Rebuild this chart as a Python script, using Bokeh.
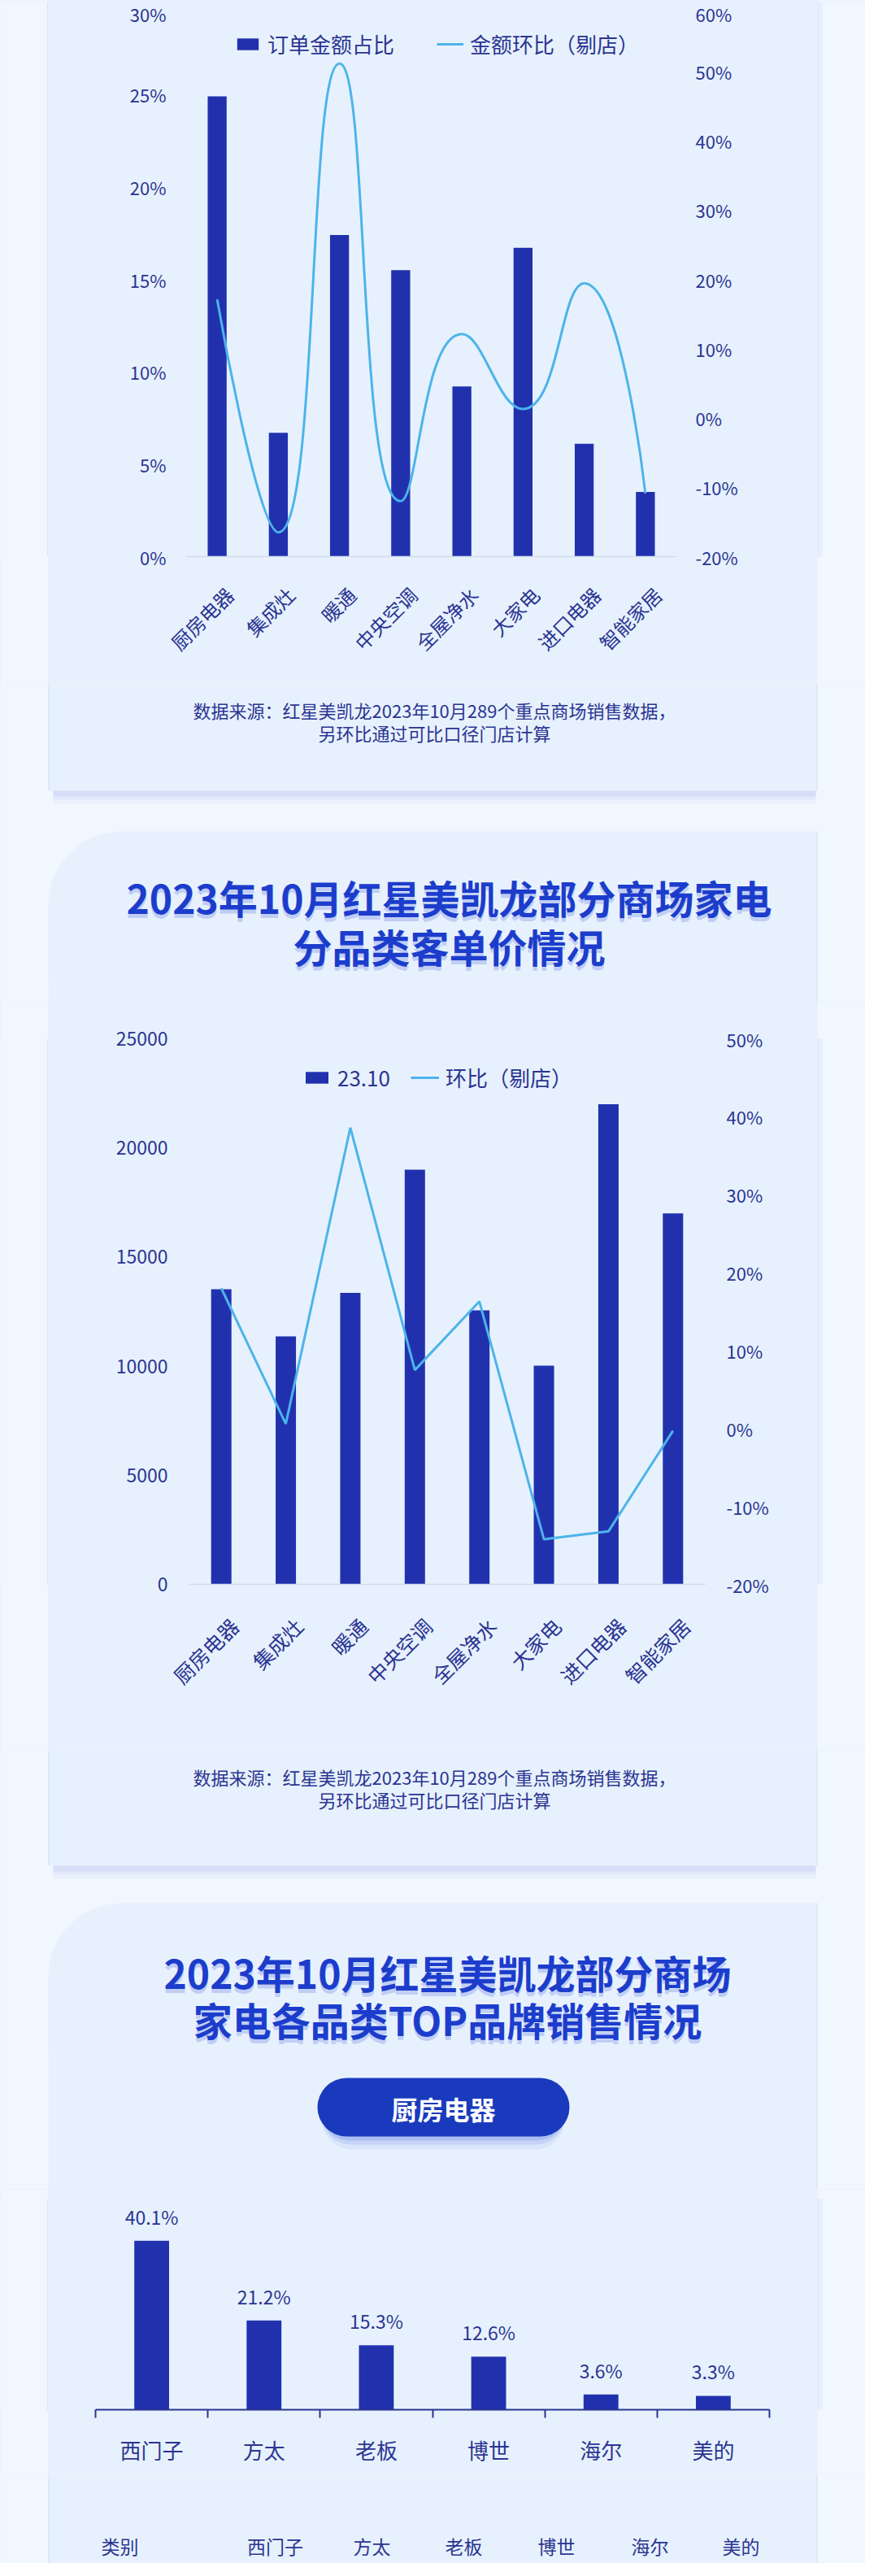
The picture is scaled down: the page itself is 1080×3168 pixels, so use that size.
import math
from bokeh.plotting import figure
from bokeh.models import (Range1d, LinearAxis, FixedTicker, PrintfTickFormatter, Legend,
                          LegendItem, LabelSet, BoxAnnotation, ColumnDataSource)
from bokeh.core.properties import value
from bokeh.layouts import column, row
from bokeh.embed import file_html
from bokeh.resources import INLINE

# ---------------- data ----------------
categories = ["厨房电器", "集成灶", "暖通", "中央空调", "全屋净水", "大家电", "进口电器", "智能家居"]
order_share = [24.9, 6.7, 17.4, 15.5, 9.2, 16.7, 6.1, 3.5]          # 订单金额占比 (%)
amount_mom = [17.1, -16.5, 51.1, -12.0, 12.1, 1.3, 19.4, -10.9]     # 金额环比（剔店）(%)
unit_price = [13520, 11360, 13360, 19000, 12560, 10020, 22000, 17000]  # 23.10 客单价
price_mom = [18.0, 0.6, 38.6, 7.5, 16.3, -14.2, -13.2, -0.3]        # 环比（剔店）(%)
brands = ["西门子", "方太", "老板", "博世", "海尔", "美的"]
brand_share = [40.1, 21.2, 15.3, 12.6, 3.6, 3.3]
share_ticks = [0, 5, 10, 15, 20, 25, 30]
mom_ticks1 = [-20, -10, 0, 10, 20, 30, 40, 50, 60]
price_ticks = [0, 5000, 10000, 15000, 20000, 25000]
mom_ticks2 = [-20, -10, 0, 10, 20, 30, 40, 50]
title2 = ["2023年10月红星美凯龙部分商场家电", "分品类客单价情况"]
title3 = ["2023年10月红星美凯龙部分商场", "家电各品类TOP品牌销售情况"]
source_lines = ["数据来源：红星美凯龙2023年10月289个重点商场销售数据，", "另环比通过可比口径门店计算"]
tab_label = "厨房电器"
table_head = ["类别"] + brands

# ---------------- style ----------------
FONT = "Noto Sans CJK SC"
INK = "#2b3592"
BAR = "#2131ae"
LINE = "#4cb4ea"
PAGE = "#f1f7fe"
CARD = "#e7f1fd"
EDGE = "#d9e5f8"
TITLE = "#1c3dcc"
W = 1064          # full page width used
SIDE = 59         # page strip left / right of the cards
CW = W - 2 * SIDE  # card width (946)


def strip_fig(w, h):
    p = figure(width=w, height=h, x_range=Range1d(0, w), y_range=Range1d(h, 0), title=None,
               output_backend="svg", toolbar_location=None,
               x_axis_location=None, y_axis_location=None,
               min_border_left=0, min_border_right=0, min_border_top=0, min_border_bottom=0)
    p.border_fill_color = PAGE
    p.background_fill_color = PAGE
    p.outline_line_color = None
    p.xgrid.grid_line_color = None
    p.ygrid.grid_line_color = None
    return p


def chart_fig(h, xr, yr, left, right, top, bottom):
    p = figure(width=CW, height=h, x_range=xr, y_range=yr, title=None, output_backend="svg",
               toolbar_location=None, x_axis_location=None, y_axis_location=None,
               min_border_left=left, min_border_right=right,
               min_border_top=top, min_border_bottom=bottom)
    p.border_fill_color = CARD
    p.background_fill_color = CARD
    p.outline_line_color = None
    p.xgrid.grid_line_color = None
    p.ygrid.grid_line_color = None
    return p


def box(p, l, r, t, b, color, alpha=1.0, radius=0, level="underlay"):
    p.add_layout(BoxAnnotation(left=l, right=r, top=t, bottom=b,
                               left_units="canvas", right_units="canvas",
                               top_units="canvas", bottom_units="canvas",
                               fill_color=color, fill_alpha=alpha, line_color=None,
                               border_radius=radius, level=level))


def card_bottom(p, b):
    for k, a in [(16, 0.10), (11, 0.16), (7, 0.26)]:
        box(p, SIDE + 6, SIDE + CW - 2, b - 10, b + k, "#b7c1f0", a)
    p.quad(left=[SIDE], right=[SIDE + CW], top=[-20], bottom=[b], fill_color=CARD, line_color=None)
    p.segment(x0=[SIDE + 0.75, SIDE + CW - 0.75], y0=[-5, -5], x1=[SIDE + 0.75, SIDE + CW - 0.75],
              y1=[b, b], line_color=EDGE, line_width=1.5)


def card_top(p, t, h, radius=90):
    box(p, SIDE, SIDE + CW, t, t + 2 * radius, CARD, 1.0, radius=(radius, 0, 0, 0))
    p.quad(left=[SIDE], right=[SIDE + CW], top=[t + radius], bottom=[h + 20],
           fill_color=CARD, line_color=None)
    p.segment(x0=[SIDE + CW - 0.75], y0=[t], x1=[SIDE + CW - 0.75], y1=[h + 5],
              line_color=EDGE, line_width=1.5)


def text(p, x, y, s, size, color=INK, bold=False, align="center", alpha=1.0, level="glyph"):
    p.text(x=[x], y=[y], text=[s], text_font=value(FONT), text_font_size=value(f"{size}px"),
           text_color=color, text_align=align, text_baseline="middle",
           text_font_style="bold" if bold else "normal", text_alpha=alpha, level=level)


def title(p, x, y, s, size):
    text(p, x, y + 5, s, size, color="#8fa3ec", bold=True, alpha=0.45)
    text(p, x, y, s, size, color=TITLE, bold=True)


def side_strips(h):
    l = strip_fig(SIDE, h)
    l.segment(x0=[SIDE - 0.75], y0=[-5], x1=[SIDE - 0.75], y1=[h + 5], line_color=EDGE, line_width=1.5)
    r = strip_fig(SIDE, h)
    r.segment(x0=[0.75], y0=[-5], x1=[0.75], y1=[h + 5], line_color=EDGE, line_width=1.5)
    r.quad(left=[1.5], right=[6], top=[-5], bottom=[h + 5], fill_color="#d3dbf5", fill_alpha=0.3,
           line_color=None)
    return l, r


def yaxis(ticks, fmt, standoff, size, range_name="default"):
    return LinearAxis(ticker=FixedTicker(ticks=ticks), formatter=PrintfTickFormatter(format=fmt),
                      axis_line_color=None, major_tick_line_color=None, minor_tick_line_color=None,
                      major_label_standoff=standoff, major_label_text_font=FONT,
                      major_label_text_font_size=f"{size}px", major_label_text_color=INK,
                      y_range_name=range_name)


def cat_xaxis(names, centers, shift, size, standoff):
    ticks = [c + shift for c in centers]
    return LinearAxis(ticker=FixedTicker(ticks=ticks),
                      major_label_overrides={t: n for t, n in zip(ticks, names)},
                      axis_line_color="#d3dbe8", axis_line_width=1.5,
                      major_tick_line_color=None, minor_tick_line_color=None,
                      major_tick_out=0, major_tick_in=0,
                      major_label_orientation=math.pi / 4, major_label_standoff=standoff,
                      major_label_text_font=FONT, major_label_text_font_size=f"{size}px",
                      major_label_text_color=INK)


def smooth_segments(xs, vals, sx, sy, smooth=0.5):
    """ECharts-style smooth bezier through the points (maths done in pixel space)."""
    P = [(x * sx, v * sy) for x, v in zip(xs, vals)]
    n = len(P)
    segs = []
    cp0 = P[0]
    for k in range(1, n):
        x, y = P[k]
        px, py = P[k - 1]
        if k == n - 1:
            cp1, ncp0 = (x, y), None
        else:
            nx, ny = P[k + 1]
            vx, vy = nx - px, ny - py
            d0 = math.hypot(x - px, y - py)
            d1 = math.hypot(nx - x, ny - y)
            r = d1 / (d0 + d1)
            ncx, ncy = x + vx * smooth * r, y + vy * smooth * r
            ncx = max(min(ncx, max(nx, x)), min(nx, x))
            ncy = max(min(ncy, max(ny, y)), min(ny, y))
            vx, vy = ncx - x, ncy - y
            c1x, c1y = x - vx * d0 / d1, y - vy * d0 / d1
            c1x = max(min(c1x, max(px, x)), min(px, x))
            c1y = max(min(c1y, max(py, y)), min(py, y))
            vx, vy = x - c1x, y - c1y
            ncx, ncy = x + vx * d1 / d0, y + vy * d1 / d0
            cp1, ncp0 = (c1x, c1y), (ncx, ncy)
        segs.append((P[k - 1], cp0, cp1, P[k]))
        cp0 = ncp0
    cols = dict(x0=[], y0=[], x1=[], y1=[], cx0=[], cy0=[], cx1=[], cy1=[])
    for a, c0, c1, b in segs:
        cols["x0"].append(a[0] / sx); cols["y0"].append(a[1] / sy)
        cols["x1"].append(b[0] / sx); cols["y1"].append(b[1] / sy)
        cols["cx0"].append(c0[0] / sx); cols["cy0"].append(c0[1] / sy)
        cols["cx1"].append(c1[0] / sx); cols["cy1"].append(c1[1] / sy)
    return cols


n = len(categories)
centers = [i + 0.5 for i in range(n)]

# ================= A: chart 1 (page y 8..850) =================
HA = 842
c1 = chart_fig(HA, Range1d(0, n), Range1d(0, 30), 170, 174, 2, 158)
c1.extra_y_ranges = {"mom": Range1d(-20, 60)}
c1.add_layout(yaxis(share_ticks, "%d%%", 19, 22), "left")
c1.add_layout(yaxis(mom_ticks1, "%d%%", 18, 22, "mom"), "right")
c1.add_layout(cat_xaxis(categories, centers, 0.2, 24, 42), "below")
bars1 = c1.vbar(x=centers, top=order_share, width=0.31, fill_color=BAR, line_color=None)
curve = smooth_segments(centers, amount_mom, 75.4, 8.525)
line1 = c1.bezier(source=ColumnDataSource(curve), x0="x0", y0="y0", x1="x1", y1="y1",
                  cx0="cx0", cy0="cy0", cx1="cx1", cy1="cy1",
                  line_color=LINE, line_width=3, y_range_name="mom")
c1.add_layout(Legend(items=[LegendItem(label="订单金额占比", renderers=[bars1]),
                            LegendItem(label="金额环比（剔店）", renderers=[line1])],
                     orientation="horizontal", location=(59, 612), glyph_width=33, glyph_height=18,
                     label_standoff=8, spacing=52, padding=0, margin=0, label_height=26,
                     border_line_color=None, background_fill_alpha=0,
                     label_text_font=FONT, label_text_font_size="26px", label_text_color=INK))
la, ra = side_strips(HA)

# ================= B: deco (page y 850..1240) =================
HB = 390
b = strip_fig(W, HB)
card_bottom(b, 130)
card_top(b, 180, HB)
text(b, 534, 30, source_lines[0], 22)
text(b, 534, 58, source_lines[1], 22)
title(b, 552, 260, title2[0], 48)
title(b, 552, 320, title2[1], 48)

# ================= C: chart 2 (page y 1240..2160) =================
HC = 920
c2 = chart_fig(HC, Range1d(0, n), Range1d(0, 25000), 173, 138, 45, 204)
c2.extra_y_ranges = {"mom": Range1d(-20, 50)}
c2.add_layout(yaxis(price_ticks, "%d", 20, 23), "left")
c2.add_layout(yaxis(mom_ticks2, "%d%%", 20, 22, "mom"), "right")
c2.add_layout(cat_xaxis(categories, centers, 0.2, 25, 46), "below")
bars2 = c2.vbar(x=centers, top=unit_price, width=0.315, fill_color=BAR, line_color=None)
line2 = c2.line(x=centers, y=price_mom, line_color=LINE, line_width=3, y_range_name="mom")
c2.add_layout(Legend(items=[LegendItem(label="23.10", renderers=[bars2]),
                            LegendItem(label="环比（剔店）", renderers=[line2])],
                     orientation="horizontal", location=(140, 605), glyph_width=35, glyph_height=18,
                     label_standoff=8, spacing=25, padding=0, margin=0, label_height=26,
                     border_line_color=None, background_fill_alpha=0,
                     label_text_font=FONT, label_text_font_size="26px", label_text_color=INK))
lc, rc = side_strips(HC)

# ================= D: deco (page y 2160..2700) =================
HD = 540
d = strip_fig(W, HD)
card_bottom(d, 142)
card_top(d, 188, HD)
text(d, 534, 32, source_lines[0], 22)
text(d, 534, 60, source_lines[1], 22)
title(d, 550, 272, title3[0], 48)
title(d, 550, 330, title3[1], 48)
for k, a in [(16, 0.10), (10, 0.16), (5, 0.25)]:
    box(d, 396, 694, 415, 475 + k, "#5f7fe6", a, radius=36, level="annotation")
box(d, 390, 700, 403, 475, "#1a3abd", 1.0, radius=36, level="annotation")
text(d, 545, 440, tab_label, 32, color="white", bold=True, level="overlay")

# ================= E: chart 3 (page y 2700..3050) =================
HE = 350
nb = len(brands)
bcenters = [i + 0.5 for i in range(nb)]
c3 = chart_fig(HE, Range1d(0, nb), Range1d(0, 50), 58, 59, 12, 79)
c3.add_layout(LinearAxis(ticker=FixedTicker(ticks=bcenters, minor_ticks=list(range(nb + 1))),
                         major_label_overrides={c: s for c, s in zip(bcenters, brands)},
                         axis_line_color=INK, axis_line_width=2,
                         major_tick_line_color=None, major_tick_out=0, major_tick_in=0,
                         minor_tick_line_color=INK, minor_tick_line_width=2,
                         minor_tick_in=0, minor_tick_out=10,
                         major_label_standoff=20, major_label_text_font=FONT,
                         major_label_text_font_size="26px", major_label_text_color=INK), "below")
src3 = ColumnDataSource(dict(x=bcenters, y=brand_share, t=[f"{v:.1f}%" for v in brand_share]))
c3.vbar(x="x", top="y", width=0.31, source=src3, fill_color=BAR, line_color=None)
c3.add_layout(LabelSet(x="x", y="y", text="t", source=src3, y_offset=13, text_align="center",
                       text_baseline="bottom", text_font=value(FONT), text_font_size=value("23px"),
                       text_color=INK))
le, re_ = side_strips(HE)

# ================= F: deco (page y 3050..3160) =================
HF = 110
f = strip_fig(W, HF)
f.quad(left=[SIDE], right=[SIDE + CW], top=[-20], bottom=[HF + 20], fill_color=CARD, line_color=None)
f.segment(x0=[SIDE + 0.75, SIDE + CW - 0.75], y0=[-5, -5], x1=[SIDE + 0.75, SIDE + CW - 0.75],
          y1=[HF + 5, HF + 5], line_color=EDGE, line_width=1.5)
head_x = [124, 338, 457, 570, 684, 799, 911]
for i, (hx, s) in enumerate(zip(head_x, table_head)):
    text(f, hx, 88, s, 23, align="left" if i == 0 else "center")

layout = column(row(la, c1, ra, spacing=0, styles={"background-color": CARD}), b,
                row(lc, c2, rc, spacing=0, styles={"background-color": CARD}), d,
                row(le, c3, re_, spacing=0, styles={"background-color": CARD}), f,
                spacing=0, styles={"background-color": CARD})
open("out.html", "w").write(file_html(layout, INLINE))
